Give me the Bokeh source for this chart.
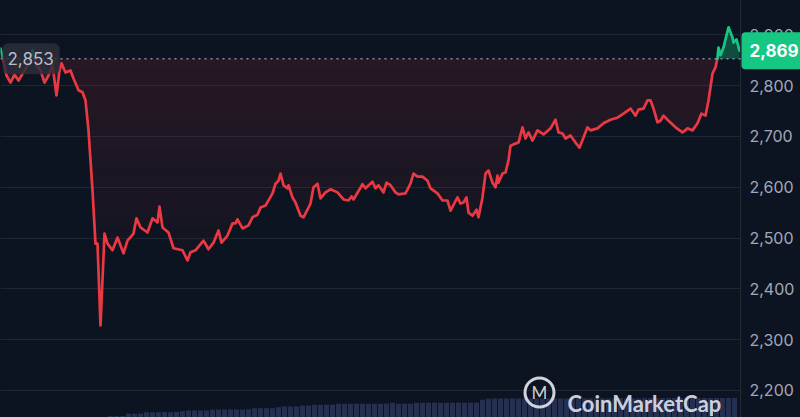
import numpy as np
from bokeh.plotting import figure
from bokeh.models import Range1d, FixedTicker, NumeralTickFormatter, Label, Span, BoxAnnotation
from bokeh.embed import file_html
from bokeh.resources import INLINE

# ---- data (time index, price in USD) ----
t = [0, 3, 6, 10, 14, 18, 24, 29, 32, 36, 40, 44, 48, 52, 56, 59, 61, 65, 70, 73, 78, 82, 85, 88, 92, 95,
     97, 100, 104, 107, 112, 117, 123, 127, 133, 136, 140, 147, 152, 157, 159, 162, 168, 173, 182, 187,
     190, 195, 203, 208, 213, 218, 221, 227, 232, 235, 237, 242, 248, 252, 257, 260, 265, 272, 275, 278,
     280, 283, 287, 288, 292, 295, 300, 303, 310, 313, 317, 320, 325, 330, 337, 343, 348, 351, 353, 362,
     365, 372, 375, 378, 383, 386, 390, 395, 398, 405, 410, 413, 417, 422, 427, 430, 437, 442, 447, 450,
     457, 460, 463, 466, 468, 472, 476, 478, 482, 485, 488, 492, 495, 497, 498, 502, 505, 508, 510, 515,
     518, 522, 525, 528, 532, 537, 543, 550, 555, 558, 562, 565, 570, 575, 579, 583, 587, 590, 597, 603,
     610, 617, 623, 630, 635, 638, 643, 647, 650, 653, 657, 660, 663, 668, 675, 682, 687, 692, 697, 701,
     705, 708, 712, 715, 717, 718, 720, 723, 728, 732, 733, 736, 739]
price = [2873, 2850, 2820, 2806, 2822, 2810, 2830, 2845, 2870, 2840, 2830, 2806, 2820, 2840, 2781, 2830,
         2844, 2826, 2830, 2814, 2791, 2787, 2771, 2712, 2594, 2489, 2489, 2328, 2509, 2489, 2476, 2501,
         2470, 2495, 2509, 2539, 2521, 2511, 2539, 2531, 2562, 2521, 2511, 2480, 2476, 2456, 2472, 2476,
         2495, 2478, 2491, 2515, 2491, 2505, 2529, 2529, 2537, 2519, 2525, 2541, 2546, 2560, 2564, 2588,
         2607, 2613, 2627, 2604, 2598, 2604, 2580, 2570, 2544, 2541, 2568, 2600, 2607, 2578, 2590, 2596,
         2590, 2576, 2574, 2582, 2576, 2606, 2598, 2611, 2598, 2604, 2590, 2609, 2604, 2590, 2586, 2588,
         2607, 2627, 2621, 2621, 2613, 2598, 2588, 2574, 2574, 2554, 2580, 2568, 2570, 2580, 2550, 2544,
         2556, 2541, 2580, 2627, 2633, 2609, 2600, 2623, 2609, 2627, 2629, 2653, 2682, 2686, 2688, 2718,
         2696, 2708, 2692, 2712, 2704, 2716, 2733, 2708, 2706, 2696, 2702, 2688, 2678, 2698, 2718, 2712,
         2716, 2726, 2733, 2737, 2745, 2755, 2741, 2753, 2755, 2771, 2771, 2755, 2728, 2731, 2741, 2731,
         2718, 2708, 2716, 2712, 2726, 2745, 2741, 2771, 2824, 2836, 2855, 2875, 2860, 2875, 2915, 2895,
         2885, 2891, 2869]
open_price = 2853
last_price = 2869

vol_t = list(range(110, 735, 6))
volume = [0.15, 0.15, 0.16, 0.37, 0.37, 0.38, 0.53, 0.53, 0.53, 0.54, 0.53, 0.54, 0.63, 0.70, 0.70,
          0.71, 0.70, 0.77, 0.80, 0.80, 0.81, 0.80, 0.80, 0.82, 0.93, 0.93, 0.94, 0.93, 1.03, 1.10,
          1.10, 1.11, 1.20, 1.20, 1.27, 1.27, 1.28, 1.27, 1.37, 1.37, 1.37, 1.38, 1.37, 1.37, 1.37,
          1.37, 1.38, 1.47, 1.37, 1.38, 1.37, 1.47, 1.47, 1.47, 1.48, 1.47, 1.47, 1.47, 1.48, 1.47,
          1.48, 1.49, 1.77, 1.88, 1.90, 1.90, 1.90, 1.91, 1.90, 1.90, 1.90, 1.91, 1.90, 1.90, 1.90,
          1.91, 1.90, 1.91, 1.92, 1.91, 1.91, 1.92, 1.92, 1.92, 1.92, 1.93, 1.92, 1.93, 1.93, 1.93,
          1.94, 1.93, 1.94, 1.94, 1.94, 1.95, 1.94, 1.95, 1.95, 1.95, 1.95, 1.95, 1.95, 1.95, 1.96]

y_ticks = [2200, 2300, 2400, 2500, 2600, 2700, 2800, 2900]

BG = "#0d1421"
RED = "#ea3943"
GREEN = "#16c784"
GREY = "#a1a7bb"
T_END = 740  # end of the time axis (the price scale sits here)

p = figure(width=800, height=417, output_backend="svg", toolbar_location=None,
           x_range=Range1d(0, 800), y_range=Range1d(2146.85, 2967.7),
           x_axis_location=None, y_axis_location="right",
           background_fill_color=BG, border_fill_color=BG, outline_line_color=None,
           min_border_left=0, min_border_top=0, min_border_bottom=0, min_border_right=0)
p.extra_y_ranges = {"vol": Range1d(0, 41.7)}

# blank out grid lines in the price-scale area
p.add_layout(BoxAnnotation(left=T_END, fill_color=BG, fill_alpha=1.0, line_color=None,
                           level="underlay"))

# volume
p.vbar(x=vol_t, top=volume, width=5, bottom=0, y_range_name="vol",
       fill_color="#252f4f", line_color=None)

# insert baseline crossings so the line can change colour exactly at the open price
ta, pa = [t[0]], [price[0]]
for i in range(1, len(t)):
    p0, p1 = price[i - 1], price[i]
    if (p0 - open_price) * (p1 - open_price) < 0:
        tc = t[i - 1] + (open_price - p0) / (p1 - p0) * (t[i] - t[i - 1])
        ta.append(tc)
        pa.append(open_price)
    ta.append(t[i])
    pa.append(p1)
ta = np.array(ta, dtype=float)
pa = np.array(pa, dtype=float)

# green fill (above open)
p.varea(x=ta, y1=np.full_like(pa, open_price), y2=np.maximum(pa, open_price),
        fill_color=GREEN, fill_alpha=0.32)

# red gradient fill (below open)
levels = np.linspace(open_price, 2400, 24)
n = len(levels) - 1
for k in range(n):
    hi, lo = levels[k], levels[k + 1]
    y1 = np.clip(pa, lo, hi)
    p.varea(x=ta, y1=y1, y2=np.full_like(pa, hi), fill_color=RED,
            fill_alpha=0.11 * (1 - k / n) + 0.01)

# coloured line runs
runs = []
cur_x, cur_y, cur_c = [ta[0]], [pa[0]], None
for i in range(1, len(ta)):
    mid = (pa[i - 1] + pa[i]) / 2
    c = GREEN if mid > open_price else RED
    if cur_c is None:
        cur_c = c
    if c != cur_c:
        runs.append((cur_x, cur_y, cur_c))
        cur_x, cur_y, cur_c = [ta[i - 1]], [pa[i - 1]], c
    cur_x.append(ta[i])
    cur_y.append(pa[i])
runs.append((cur_x, cur_y, cur_c))
p.multi_line(xs=[r[0] for r in runs], ys=[r[1] for r in runs], line_color=[r[2] for r in runs],
             line_width=2.7, line_join="round", line_cap="round")

# axes & grid
ax = p.yaxis[0]
ax.fixed_location = T_END
ax.ticker = FixedTicker(ticks=y_ticks)
ax.formatter = NumeralTickFormatter(format="0,0")
ax.major_label_text_color = GREY
ax.major_label_text_font = "Inter"
ax.major_label_text_font_size = "16px"
ax.major_label_standoff = 9
ax.major_tick_out = 0
ax.major_tick_in = 0
ax.minor_tick_out = 0
ax.minor_tick_in = 0
ax.axis_line_color = "#222a37"
ax.axis_line_width = 1
p.ygrid.ticker = FixedTicker(ticks=y_ticks)
p.ygrid.grid_line_color = "#1f2634"
p.ygrid.grid_line_width = 1
p.xgrid.grid_line_color = None

# open price dotted line
p.add_layout(Span(location=open_price, dimension="width", line_color=GREY, line_alpha=0.8,
                  line_dash="2 4", line_width=1.5))

# price labels
p.add_layout(Label(x=2, y=open_price, text="{:,}".format(open_price), text_align="left",
                   text_baseline="middle", text_color="#b8bcc8", text_font="Inter",
                   text_font_size="17px", background_fill_color="#2a2e39",
                   background_fill_alpha=0.85, border_radius=6,
                   padding=dict(left=5, right=6, top=9, bottom=9)))
p.add_layout(Label(x=741, y=last_price, text="{:,}".format(last_price), text_align="left",
                   text_baseline="middle", text_color="white", text_font="Inter",
                   text_font_style="bold", text_font_size="17px", background_fill_color=GREEN,
                   border_radius=4, padding=dict(left=8, right=8, top=12, bottom=12)))

# watermark
p.scatter(x=[539], y=[2196], marker="circle", size=29, fill_color=None,
          line_color="#e6e8ee", line_alpha=0.9, line_width=3)
p.add_layout(Label(x=539, y=2196, text="M", text_align="center", text_baseline="middle",
                   text_color="#e6e8ee", text_alpha=0.9, text_font="Lato",
                   text_font_size="17px"))
p.add_layout(Label(x=567, y=2174.5, text="CoinMarketCap", text_align="left",
                   text_baseline="alphabetic", text_color="#e6e8ee", text_alpha=0.9,
                   text_font="Lato", text_font_style="bold", text_font_size="22px"))

html = file_html(p, INLINE)
html = html.replace("</head>", "<style>html,body{background:#0d1421;}</style></head>", 1)
open("out.html", "w").write(html)
